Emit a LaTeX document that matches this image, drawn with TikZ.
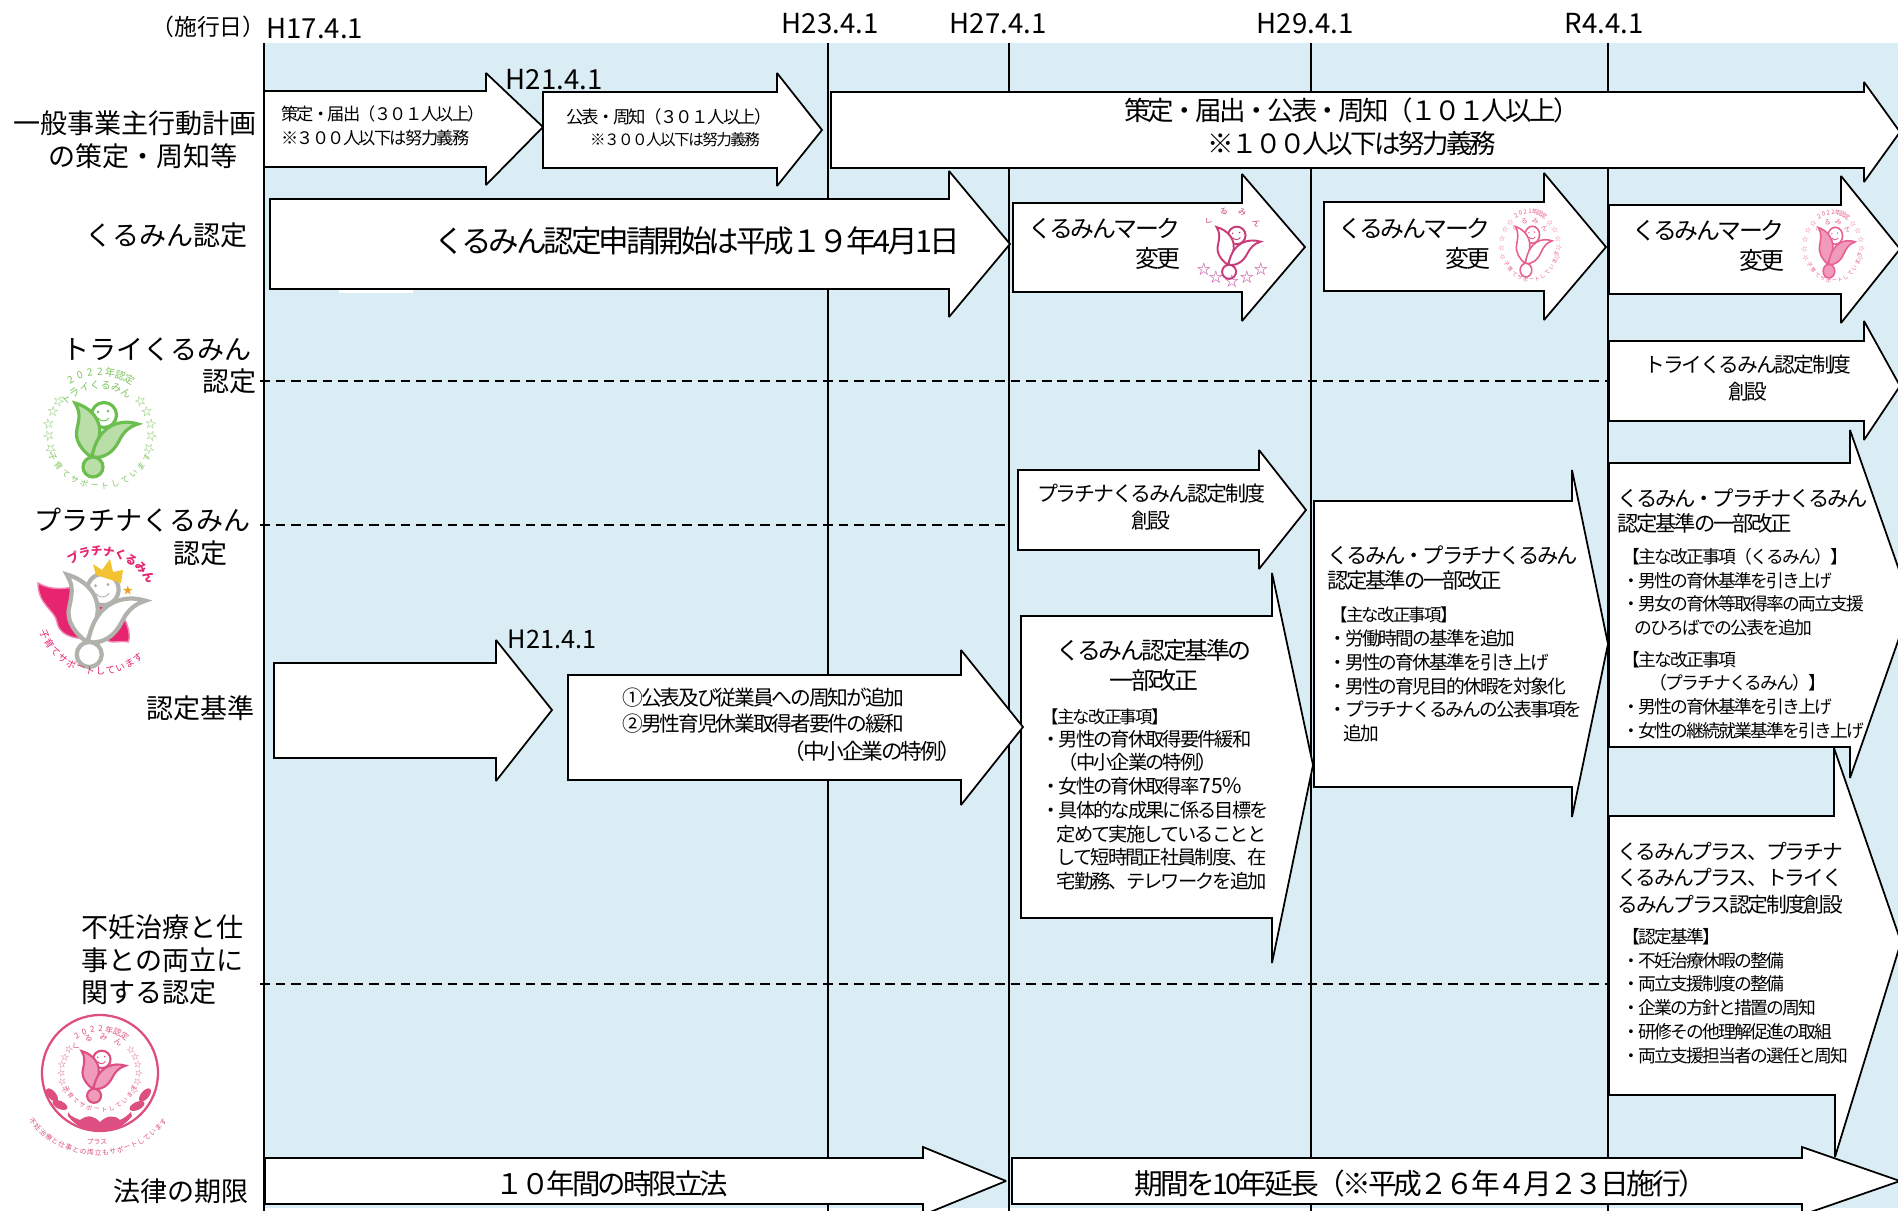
\documentclass[tikz,border=0pt]{standalone}
\usepackage{fontspec}
\setmainfont{Noto Sans CJK JP}
\newfontfamily\tightjp[LetterSpace=-10,Scale=1.055]{Noto Sans CJK JP}
\usetikzlibrary{positioning}
\definecolor{PaleBlue}{HTML}{DAEDF4}
\definecolor{TryGreen}{HTML}{6CBE4F}
\definecolor{TryLeaf}{HTML}{B9DEA8}
\definecolor{TryText}{HTML}{7CC45C}
\definecolor{PlatPink}{HTML}{E6246F}
\definecolor{PlatSilver}{HTML}{B2B2AD}
\definecolor{CrownGold}{HTML}{F2C230}
\definecolor{StarOrange}{HTML}{F0A020}
\definecolor{PlusPink}{HTML}{DC4F80}
\definecolor{PlusLeaf}{HTML}{F19BBC}
\definecolor{MarkRose}{HTML}{C83C78}
\definecolor{MarkLight}{HTML}{E8608F}
\definecolor{MarkStar}{HTML}{BE409A}
\tikzset{
  blockarrow/.style={draw=black, fill=white, line width=1pt, miter limit=2},
  rowrule/.style={color=black, line width=1.1pt},
  rowdash/.style={color=black, line width=1pt, dash pattern=on 5.5pt off 3.4pt},
  rowlabel/.style={font=\fontsize{15.4}{18.5}\selectfont, inner sep=0pt},
  datelabel/.style={font=\fontsize{15.7}{18}\selectfont, inner sep=0pt},
  boxtext/.style={inner sep=0pt, font=\tightjp\fontsize{#1}{#1}\selectfont},
  listtext/.style={inner sep=0pt, align=left, anchor=west, font=\tightjp\fontsize{#1}{13.5}\selectfont},
  tryring/.style={inner sep=0pt, text=TryText, font=\fontsize{#1}{#1}\selectfont},
  pinkring/.style={inner sep=0pt, text=PlusPink, font=\fontsize{#1}{#1}\selectfont},
  rosering/.style={inner sep=0pt, text=MarkLight, font=\fontsize{#1}{#1}\selectfont},
  pics/tulip/.style args={#1 and #2 and #3}{code={
    \draw[draw=#1, fill=white, line width=#3] (4,-18) circle (12.5);
    \fill[#1] (-2,-21) circle (1.3) (8,-22) circle (1.3);
    \draw[#1, line width=.5pt] (-2,-15) .. controls (1,-11) and (6,-11) .. (9,-15);
    \draw[draw=#1, fill=#2, line width=#3] (-25,-30) .. controls (-10,-26) and (5,-12) .. (-2,8) .. controls (-4,14) and (-8,20) .. (-9,24) .. controls (-17,18) and (-26,8) .. (-23,-4) .. controls (-21,-14) and (-19,-20) .. (-25,-30) -- cycle;
    \draw[draw=#1, fill=#2, line width=#3] (38,-9) .. controls (22,-14) and (-2,-10) .. (-8,24) .. controls (5,26) and (14,18) .. (19,8) .. controls (23,0) and (28,-6) .. (38,-9) -- cycle;
    \draw[draw=#1, line width=#3] (-8,24) -- (-7,28);
    \draw[draw=#1, fill=#2, line width=#3] (-7,34) circle (10);
  }}
}
\newcommand{\ringtext}[9]{%
  \foreach \glyph [count=\idx] in {#9}{%
    \pgfmathsetmacro{\ang}{#5+\idx*#6}%
    \node[#8, rotate=\ang+#7] (ring\idx) at ({#1+#3*cos(\ang)},{#2-#4*sin(\ang)}) {\glyph};
  }}
\newcommand{\smallmark}[4]{%
  \ringtext{#1}{#2}{28}{36}{130}{-10}{-90}{rosering=3.5}{#3}
  \ringtext{#1}{#2}{21}{27}{165}{-30}{-90}{rosering=3.8}{く,る,み,ん}
  \ringtext{#1}{#2}{29}{34}{118}{16}{-90}{rosering=3.6}{☆,☆,☆,☆,☆}
  \ringtext{#1}{#2}{29}{34}{62}{-16}{-90}{rosering=3.6}{☆,☆,☆,☆,☆}
  \ringtext{#1}{#2}{27}{33}{198}{12.5}{90}{rosering=3.1}{子,育,て,サ,ポ,ー,ト,し,て,い,ま,す}
  \pic[xscale=.58, yscale=.68] (tulip#1) at (#1,#2) {tulip={MarkLight and #4 and .9pt}};
}
\begin{document}
\begin{tikzpicture}[x=.02cm, y=-.02cm]
\clip (0,0) rectangle (1898,1211);
\fill[PaleBlue] (264,43) rectangle (1898,1208);

\draw[rowrule, line width=1.5pt] (264,43) -- (264,1211);
\draw[rowrule] (828,43) -- (828,1211);
\draw[rowrule] (1009,43) -- (1009,1211);
\draw[rowrule] (1311,43) -- (1311,1211);
\draw[rowrule] (1608,43) -- (1608,1211);

\draw[rowdash] (260,381) -- (1608,381);
\draw[rowdash] (260,525) -- (1009,525);
\draw[rowdash] (260,984) -- (1608,984);

\fill[white] (339,285) rectangle (413,293);

\draw[blockarrow] (264,91) -- (486,91) -- (486,73) -- (543,127) -- (486,185) -- (486,167) -- (264,167) -- cycle;
\draw[blockarrow] (543,92) -- (777,92) -- (777,73) -- (822,130) -- (777,186) -- (777,168) -- (543,168) -- cycle;
\draw[blockarrow] (831,92) -- (1864,92) -- (1864,82) -- (1900,132) -- (1864,182) -- (1864,168) -- (831,168) -- cycle;
\draw[blockarrow] (270,199) -- (949,199) -- (949,171) -- (1010,244) -- (949,317) -- (949,289) -- (270,289) -- cycle;
\draw[blockarrow] (1013,203) -- (1242,203) -- (1242,174) -- (1305,247) -- (1242,321) -- (1242,292) -- (1013,292) -- cycle;
\draw[blockarrow] (1324,202) -- (1544,202) -- (1544,173) -- (1606,247) -- (1544,320) -- (1544,291) -- (1324,291) -- cycle;
\draw[blockarrow] (1609,205) -- (1841,205) -- (1841,176) -- (1900,249) -- (1841,323) -- (1841,294) -- (1609,294) -- cycle;
\draw[blockarrow] (1609,341) -- (1864,341) -- (1864,321) -- (1900,386) -- (1864,440) -- (1864,421) -- (1609,421) -- cycle;
\draw[blockarrow] (1018,470) -- (1259,470) -- (1259,450) -- (1306,510) -- (1259,569) -- (1259,550) -- (1018,550) -- cycle;
\draw[blockarrow] (1021,616) -- (1272,616) -- (1272,573) -- (1313,765) -- (1272,963) -- (1272,918) -- (1021,918) -- cycle;
\draw[blockarrow] (1314,501) -- (1572,501) -- (1572,470) -- (1608,644) -- (1572,817) -- (1572,787) -- (1314,787) -- cycle;
\draw[blockarrow] (1609,816) -- (1834,816) -- (1834,748) -- (1901,942) -- (1835,1157) -- (1835,1095) -- (1609,1095) -- cycle;
\draw[blockarrow] (1609,463) -- (1850,463) -- (1850,430) -- (1911,604) -- (1850,778) -- (1850,747) -- (1609,747) -- cycle;
\draw[blockarrow] (274,663) -- (496,663) -- (496,640) -- (552,710) -- (496,781) -- (496,758) -- (274,758) -- cycle;
\draw[blockarrow] (568,675) -- (961,675) -- (961,650) -- (1023,727) -- (961,805) -- (961,780) -- (568,780) -- cycle;
\draw[blockarrow] (265,1158) -- (923,1158) -- (923,1147) -- (1006,1181) -- (923,1215) -- (923,1204) -- (265,1204) -- cycle;
\draw[blockarrow] (1012,1158) -- (1802,1158) -- (1802,1147) -- (1900,1181) -- (1802,1215) -- (1802,1204) -- (1012,1204) -- cycle;
\draw[rowrule, line width=1.5pt] (1608,463) -- (1608,747) (1608,816) -- (1608,1095);

\node[font=\fontsize{13}{14}\selectfont, anchor=east, inner sep=0pt] (dateHead) at (266,27) {（施行日）};
\node[datelabel, anchor=west] (dateH17) at (266,29) {H17.4.1};
\node[datelabel] (dateH23) at (830,24) {H23.4.1};
\node[datelabel] (dateH27) at (998,24) {H27.4.1};
\node[datelabel] (dateH29) at (1305,24) {H29.4.1};
\node[datelabel] (dateR4) at (1604,24) {R4.4.1};
\node[datelabel] (dateH21a) at (554,80) {H21.4.1};
\node[datelabel, font=\fontsize{14.4}{18}\selectfont] (dateH21b) at (552,639) {H21.4.1};

\node[rowlabel] (rowPlan) at (135,123) {一般事業主行動計画};
\node[rowlabel] (rowPlanB) at (143,156) {の策定・周知等};
\node[rowlabel, anchor=east] (rowKuru) at (248,235) {くるみん認定};
\node[rowlabel, anchor=east] (rowTry) at (252,349) {トライくるみん};
\node[rowlabel, anchor=east] (rowTryB) at (257,381) {認定};
\node[rowlabel, anchor=east] (rowPlat) at (251,520) {プラチナくるみん};
\node[rowlabel, anchor=east] (rowPlatB) at (228,553) {認定};
\node[rowlabel, anchor=east] (rowBase) at (255,708) {認定基準};
\node[rowlabel, align=left, anchor=west] (rowFunin) at (81,960) {不妊治療と仕\\事との両立に\\関する認定};
\node[rowlabel, anchor=east] (rowTerm) at (249,1191) {法律の期限};

\node[boxtext=9.3, align=left, anchor=west, font=\tightjp\fontsize{9.3}{13.6}\selectfont] (planA) at (281,126) {策定・届出（３０１人以上）\\※３００人以下は努力義務};
\node[boxtext=9.4] (planB) at (669,117) {公表・周知（３０１人以上）};
\node[boxtext=8.4] (planC) at (675,140) {※３００人以下は努力義務};
\node[align=center, inner sep=0pt, font=\tightjp\fontsize{14.3}{18.7}\selectfont] (planD) at (1352,127) {策定・届出・公表・周知（１０１人以上）\\※１００人以下は努力義務};
\node[boxtext=16.5] (kuruStart) at (697,241) {くるみん認定申請開始は平成１９年4月1日};
\node[align=right, anchor=east, inner sep=0pt, font=\tightjp\fontsize{12.9}{17}\selectfont] (markA) at (1181,244) {くるみんマーク\\変更};
\node[align=right, anchor=east, inner sep=0pt, font=\tightjp\fontsize{12.9}{17}\selectfont] (markB) at (1491,244) {くるみんマーク\\変更};
\node[align=right, anchor=east, inner sep=0pt, font=\tightjp\fontsize{12.9}{17}\selectfont] (markC) at (1785,246) {くるみんマーク\\変更};
\node[align=center, inner sep=0pt, font=\tightjp\fontsize{11.2}{15}\selectfont] (tryNew) at (1748,378) {トライくるみん認定制度\\創設};
\node[align=center, inner sep=0pt, font=\tightjp\fontsize{11.3}{15}\selectfont] (platNew) at (1151,507) {プラチナくるみん認定制度\\創設};

\node[align=center, inner sep=0pt, font=\tightjp\fontsize{12.9}{17}\selectfont] (baseTitle) at (1154,665) {くるみん認定基準の\\一部改正};
\node[boxtext=9.4, anchor=west] (baseHead) at (1041,717) {【主な改正事項】};
\node[listtext=10.4] (baseList) at (1041,810) {・男性の育休取得要件緩和\\\hspace*{.9em}（中小企業の特例）\\・女性の育休取得率{\rmfamily\fontsize{12}{13.5}\selectfont 75\%}\\・具体的な成果に係る目標を\\\hspace*{.8em}定めて実施していることと\\\hspace*{.8em}して短時間正社員制度、在\\\hspace*{.8em}宅勤務、テレワークを追加};

\node[align=left, anchor=west, inner sep=0pt, font=\tightjp\fontsize{11.5}{14.4}\selectfont] (h29Title) at (1327,568) {くるみん・プラチナくるみん\\認定基準の一部改正};
\node[boxtext=9.4, anchor=west] (h29Head) at (1330,615) {【主な改正事項】};
\node[listtext=10.1] (h29List) at (1328,686) {・労働時間の基準を追加\\・男性の育休基準を引き上げ\\・男性の育児目的休暇を対象化\\・プラチナくるみんの公表事項を\\\hspace*{.8em}追加};

\node[align=left, anchor=west, inner sep=0pt, font=\tightjp\fontsize{11.5}{14.4}\selectfont] (r4Title) at (1617,511) {くるみん・プラチナくるみん\\認定基準の一部改正};
\node[listtext=9.6] (r4ListA) at (1622,592) {【主な改正事項（くるみん）】\\・男性の育休基準を引き上げ\\・男女の育休等取得率の両立支援\\\hspace*{.7em}のひろばでの公表を追加};
\node[listtext=9.6] (r4ListB) at (1622,695) {【主な改正事項\\\hspace*{1.5em}（プラチナくるみん）】\\・男性の育休基準を引き上げ\\・女性の継続就業基準を引き上げ};

\node[align=left, anchor=west, inner sep=0pt, font=\tightjp\fontsize{11.2}{15.1}\selectfont] (plusTitle) at (1617,878) {くるみんプラス、プラチナ\\くるみんプラス、トライく\\るみんプラス認定制度創設};
\node[listtext=9.6] (plusList) at (1622,996) {【認定基準】\\・不妊治療休暇の整備\\・両立支援制度の整備\\・企業の方針と措置の周知\\・研修その他理解促進の取組\\・両立支援担当者の選任と周知};

\node[align=left, anchor=west, inner sep=0pt, font=\tightjp\fontsize{11.2}{14.7}\selectfont] (critA) at (622,711) {①公表及び従業員への周知が追加\\②男性育児休業取得者要件の緩和};
\node[boxtext=11.7, anchor=east] (critB) at (962,751) {（中小企業の特例）};
\node[boxtext=15.3] (termA) at (612,1184) {１０年間の時限立法};
\node[boxtext=15.5] (termB) at (1421,1184) {期間を10年延長（※平成２６年４月２３日施行）};

\ringtext{100}{433}{61}{61}{128.4}{-9.6}{-90}{tryring=5.8}{2,0,2,2,年,認,定}
\ringtext{100}{433}{48}{48}{148}{-13}{-90}{tryring=5.8}{ト,ラ,イ,く,る,み,ん}
\ringtext{100}{433}{52}{52}{128}{14}{-90}{tryring=6.4}{☆,☆,☆,☆,☆}
\ringtext{100}{433}{52}{52}{52}{-14}{-90}{tryring=6.4}{☆,☆,☆,☆,☆}
\ringtext{100}{433}{53}{53}{195.6}{11.4}{90}{tryring=4.6}{子,育,て,サ,ポ,ー,ト,し,て,い,ま,す}
\pic (tulipTry) at (100,433) {tulip={TryGreen and TryLeaf and 1.8pt}};

\draw[draw=PlatPink!55, fill=PlatPink, line width=.8pt] (38,583) .. controls (50,590) and (65,590) .. (80,585) -- (125,620) .. controls (130,630) and (130,640) .. (128,642) .. controls (118,640) and (110,645) .. (105,638) .. controls (85,640) and (60,640) .. (57,622) .. controls (55,610) and (38,605) .. (38,583) -- cycle;
\pic[scale=1.25] (tulipPlat) at (98,612) {tulip={PlatSilver and white and 2.4pt}};
\fill[CrownGold] (96,575) -- (93,564) -- (102,570) -- (110,559) -- (113,572) -- (123,570) -- (121,583) -- cycle;
\node[text=StarOrange, font=\fontsize{6}{6}\selectfont, inner sep=0pt] (platStar) at (128,590) {★};
\ringtext{100}{610}{59}{59}{129}{-11.9}{-90}{text=PlatPink, inner sep=0pt, font=\bfseries\fontsize{6.6}{7}\selectfont}{プ,ラ,チ,ナ,く,る,み,ん}
\ringtext{100}{610}{61}{61}{194.5}{9.5}{90}{text=PlatPink, inner sep=0pt, font=\fontsize{5.4}{6}\selectfont}{子,育,て,サ,ポ,ー,ト,し,て,い,ま,す}

\draw[draw=PlusPink, line width=1.3pt] (100,1073) circle (58);
\ringtext{100}{1073}{44}{44}{133}{-11}{-90}{pinkring=4.6}{2,0,2,2,年,認,定}
\ringtext{100}{1073}{36}{36}{157.5}{-24.5}{-90}{pinkring=4.6}{く,る,み,ん}
\ringtext{100}{1073}{39}{39}{131}{12.5}{-90}{pinkring=4.6}{☆,☆,☆,☆,☆,☆}
\ringtext{100}{1073}{39}{39}{49}{-12.5}{-90}{pinkring=4.6}{☆,☆,☆,☆,☆,☆}
\ringtext{100}{1073}{37}{37}{194}{11.8}{90}{pinkring=3.4}{子,育,て,サ,ポ,ー,ト,し,て,い,ま,す}
\pic[scale=.7] (tulipPlus) at (99,1072) {tulip={PlusPink and PlusLeaf and 1.2pt}};
\fill[PlusPink, rotate around={-50:(52,1095)}] (52,1095) ellipse (8 and 4);
\fill[PlusPink, rotate around={-25:(60,1105)}] (60,1105) ellipse (8 and 4);
\fill[PlusPink, rotate around={50:(145,1095)}] (145,1095) ellipse (8 and 4);
\fill[PlusPink, rotate around={25:(137,1106)}] (137,1106) ellipse (8 and 4);
\fill[PlusPink] (68,1112) .. controls (72,1118) and (76,1118) .. (80,1120) .. controls (88,1114) and (94,1116) .. (100,1122) .. controls (106,1116) and (114,1114) .. (120,1120) .. controls (124,1118) and (127,1116) .. (131,1112) -- (132,1116) .. controls (124,1127) and (112,1131) .. (100,1131) .. controls (88,1131) and (76,1127) .. (68,1116) -- cycle;
\ringtext{98}{1069}{84}{84}{213.9}{5.1}{90}{pinkring=3.9}{不,妊,治,療,と,仕,事,と,の,両,立,も,サ,ポ,ー,ト,し,て,い,ま,す}
\node[pinkring=3.9] (plusName) at (97,1142) {プラス};

\ringtext{1232}{240}{30}{30}{178}{-36}{-90}{text=MarkRose, inner sep=0pt, font=\fontsize{4.6}{5}\selectfont}{く,る,み,ん}
\pic[scale=.7] (tulipMarkA) at (1234,248) {tulip={MarkRose and white and 1.1pt}};
\node[text=MarkStar, font=\fontsize{8}{8}\selectfont, inner sep=0pt] (markStarA) at (1204,269) {☆};
\node[text=MarkStar, font=\fontsize{8}{8}\selectfont, inner sep=0pt] (markStarB) at (1216,277) {☆};
\node[text=MarkStar, font=\fontsize{8}{8}\selectfont, inner sep=0pt] (markStarC) at (1232,281) {☆};
\node[text=MarkStar, font=\fontsize{8}{8}\selectfont, inner sep=0pt] (markStarD) at (1247,277) {☆};
\node[text=MarkStar, font=\fontsize{8}{8}\selectfont, inner sep=0pt] (markStarE) at (1261,269) {☆};

\smallmark{1530}{247}{2,0,2,1,年,認,定}{white}
\smallmark{1833}{248}{2,0,2,2,年,認,定}{PlusLeaf}
\end{tikzpicture}
\end{document}
